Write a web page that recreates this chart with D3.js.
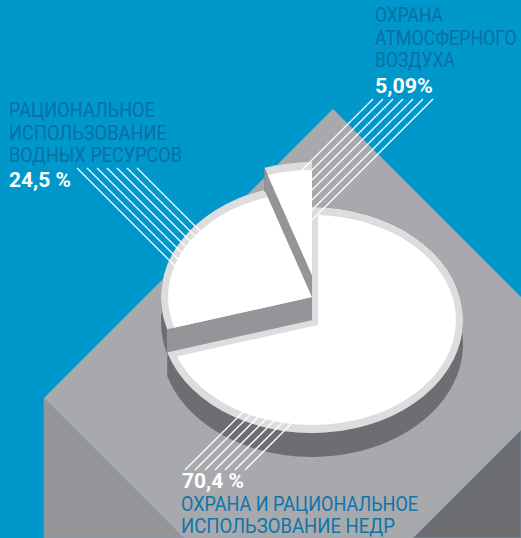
<!DOCTYPE html>
<html>
<head>
<meta charset="utf-8">
<script src="https://cdnjs.cloudflare.com/ajax/libs/d3/7.8.5/d3.min.js"></script>
<style>
html, body { margin: 0; padding: 0; background: #0097cb; }
svg { display: block; }
text { font-family: Roboto, sans-serif; }
</style>
</head>
<body>
<svg id="chart" width="521" height="538"></svg>
<script>
var values = [70.4, 24.5, 5.09];
var valueLabels = ["70,4 %", "24,5 %", "5,09%"];
var labelMain = ["ОХРАНА И РАЦИОНАЛЬНОЕ", "ИСПОЛЬЗОВАНИЕ НЕДР"];
var labelWater = ["РАЦИОНАЛЬНОЕ", "ИСПОЛЬЗОВАНИЕ", "ВОДНЫХ РЕСУРСОВ"];
var labelAir = ["ОХРАНА", "АТМОСФЕРНОГО", "ВОЗДУХА"];

var svg = d3.select("#chart"),
    cx = 312, cy = 320,
    outerR = 151, innerR = 144,
    squash = 0.748, squashInner = 0.73,
    lift = [0, 23, 45],
    depth = 24;

var colorRim = "#dcddde", colorSide = "#6d6e71", colorCut = "#939598";

// tilted table under the pie
var table = svg.append("g");
table.append("path").attr("d", "M333,109L521,297V538H44V398Z").attr("fill", "#a7a9ac");
table.append("path").attr("d", "M44,398L184,538H44Z").attr("fill", "#939598").attr("stroke", "#7fa3b8").attr("stroke-width", 0.6);
table.append("path").attr("d", "M521,430L413,538H521Z").attr("fill", "#6d6e71").attr("stroke", "#7fa3b8").attr("stroke-width", 0.6);

var pie = d3.pie().sort(null)(values);

var arcOuter = d3.arc().innerRadius(0).outerRadius(outerR);
var arcInner = d3.arc().innerRadius(0).outerRadius(innerR);

var defs = svg.append("defs");

// outer wall of a slice, from the arc down by h
function wall(d, h, y) {
  var pts = d3.range(d.startAngle, d.endAngle, 0.02).concat([d.endAngle]).map(function(a) {
    return [cx + outerR * Math.sin(a), y - outerR * squash * Math.cos(a)];
  });
  return d3.line()(pts.concat(pts.slice().reverse().map(function(p) { return [p[0], p[1] + h]; }))) + "Z";
}

// straight cut of a slice along one edge
function cut(angle, h, y) {
  var x1 = cx + outerR * Math.sin(angle), y1 = y - outerR * squash * Math.cos(angle);
  return d3.line()([[cx, y], [x1, y1], [x1, y1 + h], [cx, y + h]]) + "Z";
}

function sliceTransform(i, k) {
  return "translate(" + cx + "," + (cy - lift[i]) + ") scale(1," + k + ")";
}

// main slice first, the raised ones stack on top of it
pie.forEach(function(d, i) {
  var y = cy - lift[i];
  svg.append("path").attr("d", wall(d, i === 0 ? depth : lift[i] - lift[i - 1] + 2, y)).attr("fill", colorSide);
  if (i > 0) {
    svg.append("path").attr("d", cut(d.startAngle, lift[i] - lift[i - 1], y)).attr("fill", colorCut);
  }
  svg.append("path").attr("d", arcOuter(d)).attr("transform", sliceTransform(i, squash)).attr("fill", colorRim);

  // white face: inner ellipse cut by the wedge (moved in for the main slice)
  var shift = i === 0 ? [6, 5] : [0, 0];
  defs.append("clipPath").attr("id", "face" + i)
    .append("path")
      .attr("d", arcOuter(d))
      .attr("transform", "translate(" + (cx + shift[0]) + "," + (y + shift[1]) + ") scale(1," + squash + ")");
  svg.append("g").attr("clip-path", "url(#face" + i + ")")
    .append("path")
      .attr("d", arcInner({startAngle: 0, endAngle: 2 * Math.PI}))
      .attr("transform", sliceTransform(i, squashInner))
      .attr("fill", "#fff");
});

// leader lines, 45 degrees
function leaders(x0, y0, dirY, dirX, lengths) {
  svg.append("g").selectAll("line")
    .data(lengths)
    .enter().append("line")
      .attr("x1", function(d, i) { return x0 + i * 10; })
      .attr("y1", y0)
      .attr("x2", function(d, i) { return x0 + i * 10 + dirX * d; })
      .attr("y2", function(d) { return y0 + dirY * d; })
      .attr("stroke", "#fff")
      .attr("stroke-width", 1.3);
}
leaders(77, 168, 1, 1, [100, 94, 88, 82, 76, 70, 63]);
leaders(373, 99, 1, -1, [72, 72, 81, 91, 101, 111, 121]);
leaders(185, 470, -1, 1, [60, 58, 56, 54, 52, 50, 47]);

// labels: the original face is condensed, so squeeze each line to its width
function fitText(t, x, y, w, size, weight, color) {
  var el = svg.append("text")
    .attr("font-size", size).attr("font-weight", weight).attr("fill", color)
    .text(t);
  var k = w / el.node().getComputedTextLength();
  el.attr("transform", "translate(" + x + "," + y + ") scale(" + k + ",1)");
}
function block(lines, x, y0, step, color, width) {
  lines.forEach(function(t, i) {
    fitText(t, x, y0 + i * step, width[i], 20, 400, color);
  });
}
block(labelWater, 9, 117, 22.5, "#0a6fa3", [146, 158, 173]);
fitText(valueLabels[1], 9, 187, 62, 20, 700, "#fff");
block(labelAir, 375, 22, 22.5, "#0a6fa3", [68, 142, 80]);
fitText(valueLabels[2], 375, 93, 58, 20.5, 700, "#fff");
fitText(valueLabels[0], 182, 487.5, 62, 20.5, 700, "#fff");
block(labelMain, 181, 511, 22, "#0f75a8", [237, 214]);
</script>
</body>
</html>
